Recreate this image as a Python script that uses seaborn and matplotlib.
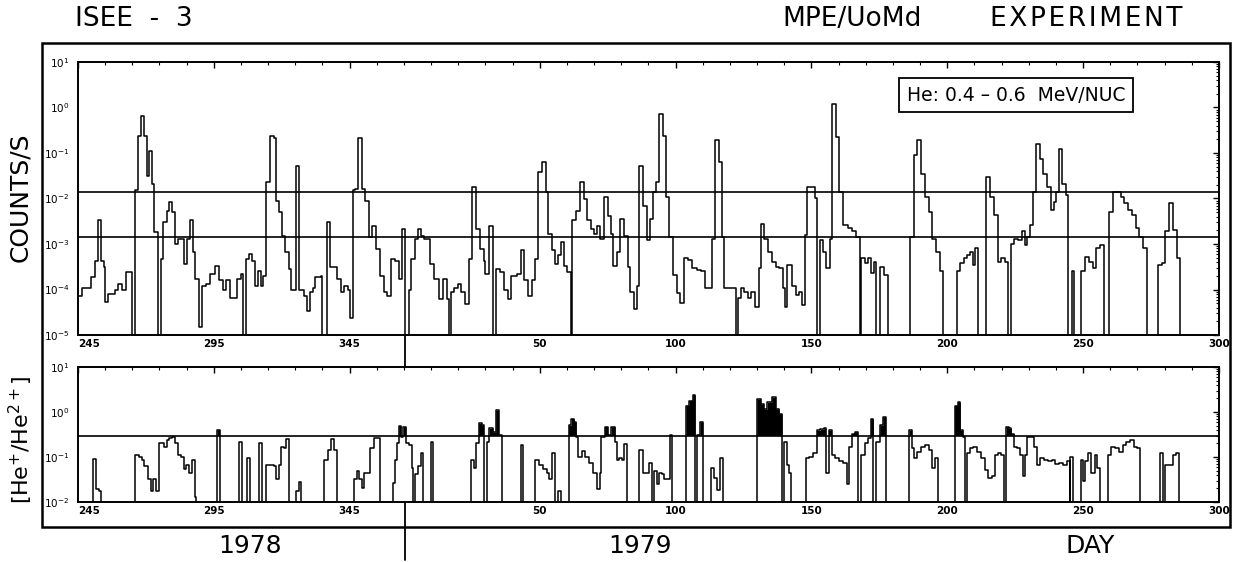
import numpy as np
import pandas as pd
import seaborn as sns
import matplotlib.pyplot as plt
from matplotlib.ticker import FixedLocator, NullFormatter
from matplotlib.transforms import blended_transform_factory
from matplotlib.patches import Rectangle
from matplotlib.lines import Line2D

# day axis: 1978 day n -> n, 1979 day n -> 365 + n
# each value holds from its day up to the next day (step histogram), 0 = no counts
count_days = [
    245, 246.5, 249.9, 251.3, 252.2, 253.3, 254.4, 254.9, 256, 258.8, 259.9, 261.2, 262.8, 264.9,
    266, 267.2, 268.3, 269.4, 270.3, 271, 272.4, 273.1, 274.4, 275.4, 276.2, 277.8, 278.5, 279.5,
    280.6, 281.9, 284.2, 285.3, 286.4, 287.4, 288.2, 289.4, 290.8, 292.1, 293.5, 295.5, 296.9,
    298.3, 299.6, 301, 303.4, 305.1, 305.8, 306.7, 307.8, 308.9, 310, 311.2, 312.3, 313.2, 314.2,
    315.7, 317.3, 318, 319, 320, 321.2, 322.5, 323.5, 325.2, 326.3, 328.2, 329.3, 330.3, 331.6,
    332.3, 334.4, 335, 336.7, 337.8, 340.5, 341.9, 343, 344.3, 345.3, 346.2, 346.9, 348, 349.4,
    350.7, 352.1, 353.4, 354.8, 356.2, 357.5, 358.9, 360.3, 361.6, 363, 364.3, 365.4, 367, 367.7,
    369.1, 370.2, 371.2, 372.5, 374.6, 375.9, 378, 379.3, 380.7, 381.4, 382.2, 383.4, 384.8,
    386.1, 387.5, 388.9, 390.2, 391.6, 393, 394.3, 395, 396.4, 397.7, 398.8, 400.2, 401.8, 403.2,
    404.5, 406.6, 407.9, 409.3, 410.7, 412, 413.4, 414.3, 415.7, 417.1, 418.2, 419.5, 420.6,
    421.6, 422.9, 423.9, 425, 426.3, 427, 428.4, 429.7, 431.1, 432.5, 433.8, 434.8, 435.9, 437.2,
    438.6, 440, 441.3, 442, 443.4, 444.7, 446.1, 447.4, 448.1, 449.5, 450.6, 451.5, 452.9, 454.3,
    455.6, 456.7, 457.8, 458.9, 460.3, 461.3, 462.6, 464, 465.4, 466.7, 468.1, 469.5, 470.9,
    472.9, 474.3, 475.7, 478.4, 479.5, 480.9, 481.9, 482.8, 487.1, 488, 489.1, 490.1, 491.5,
    492.8, 494.2, 495.6, 496.6, 497.7, 499, 500.4, 501.8, 503.1, 504.5, 505.2, 505.9, 508, 509.3,
    510.3, 511.4, 512.5, 513.5, 516.2, 517.2, 518.3, 519.4, 520.3, 521.7, 522.7, 524, 525.1,
    526.5, 528.6, 529.9, 531.3, 532.7, 533.4, 534.7, 535.8, 536.8, 537.9, 538.9, 540.2, 541.6,
    543, 551.2, 552.6, 554, 555.3, 556.7, 558.1, 559.5, 560.8, 562.2, 563.6, 568.4, 569.8, 571.1,
    572.1, 573.2, 574.3, 575.3, 576.2, 579.4, 580.8, 582.1, 583.5, 584.9, 586.3, 587.2, 588.3,
    589.7, 591.1, 592.4, 593.5, 594.5, 595.5, 596.6, 597.7, 599, 600.4, 601.8, 603.2, 604.1,
    605.1, 606.2, 607.3, 608.6, 609.6, 611, 611.7, 614.4, 615.8, 617.2, 618.5, 619.9, 621.3,
    622.7, 624.7, 626.1, 628.8, 630.2, 631.6, 633, 634.3, 635.7, 637.1, 638.5, 642.6, 643.9,
    645.3, 646.7, 648.1, 649.5, 650.8,
]
count_rates = [
    7.3e-5, 1.1e-4, 1.85e-4, 4.3e-4, 3.3e-3, 4.3e-4, 3.1e-4, 5.2e-5, 8e-5, 1.0e-4, 1.3e-4, 1.0e-4, 2.4e-4, 0,
    0.015, 0.24, 0.65, 0.24, 0.032, 0.11, 0.021, 0.0018, 0, 4.7e-4, 0.003, 0.0054, 0.0083, 0.005,
    0.001, 0.0013, 3.6e-4, 0.0013, 0.0033, 6.8e-4, 1.7e-4, 1.5e-5, 1.2e-4, 1.3e-4, 2.2e-4, 3.3e-4, 1.6e-4,
    1.0e-4, 1.6e-4, 6.4e-5, 1.7e-4, 2.2e-4, 0, 4.7e-4, 6.0e-4, 4.3e-4, 1.2e-4, 2.6e-4, 1.2e-4, 2.0e-4, 0.023,
    0.24, 0.21, 0.009, 0.005, 0.0015, 6.6e-4, 2.8e-4, 1.0e-4, 0.053, 1.0e-4, 7.3e-5, 3.4e-5, 8.7e-5, 1.1e-4,
    1.85e-4, 2.0e-4, 0, 0.003, 3.1e-4, 1.7e-4, 8.7e-5, 1.2e-4, 1.0e-4, 2.4e-5, 0.015, 0.016, 0.21, 0.016,
    0.009, 0.0014, 0.0025, 7.8e-4, 2.0e-4, 8.7e-5, 7.3e-5, 4.7e-4, 4.3e-4, 1.7e-4, 0.0021, 0, 1.0e-4, 4.7e-4,
    0.0013, 0.0021, 0.0015, 0.0013, 3.6e-4, 1.7e-4, 6.2e-5, 1.7e-4, 6.2e-5, 0, 8.7e-5, 1.1e-4, 1.3e-4,
    8.7e-5, 4.8e-5, 4.7e-4, 0.018, 0.0021, 7.8e-4, 4.3e-4, 2.2e-4, 0.0025, 0, 2.8e-4, 2.4e-4, 1.0e-4, 6.2e-5,
    2.0e-4, 2.2e-4, 7.2e-4, 1.6e-4, 7.3e-5, 1.6e-4, 4.7e-4, 0.038, 0.063, 0.014, 0.0017, 7.2e-4, 3.6e-4,
    5.6e-4, 0.0011, 3.3e-4, 2.4e-4, 0, 0.0033, 0.0054, 0.023, 0.0098, 0.0033, 0.0021, 0.0017, 0.0025, 0.0013,
    0.011, 0.0042, 0.0017, 3.3e-4, 6.6e-4, 0.0036, 0.0015, 3.1e-4, 8.7e-5, 3.7e-5, 1.2e-4, 0.053, 0.007, 0.0012,
    0.0036, 0.014, 0.023, 0.73, 0.24, 0.011, 0.0014, 2.1e-4, 8.3e-5, 5e-5, 4.9e-4, 4.5e-4, 2.9e-4,
    2.7e-4, 2.5e-4, 1.1e-4, 0.0013, 0.19, 0.064, 0.0014, 1.1e-4, 0, 6.5e-5, 1.1e-4, 9e-5, 6.5e-5,
    9e-5, 4.2e-5, 2.9e-4, 0.0028, 0.0013, 6.8e-4, 4.1e-4, 3.2e-4, 2.9e-4, 1.1e-4, 4.2e-5, 3.5e-4, 1.2e-4, 7.6e-5,
    9e-5, 4.6e-5, 0.0016, 0.018, 0.01, 0, 0.0012, 6.8e-4, 2.9e-4, 0.0013, 1.2, 0.22, 0.014,
    0.0026, 0.0022, 0.0019, 0.0014, 0, 4.9e-4, 3.8e-4, 4.9e-4, 2.3e-4, 4.1e-4, 0, 3.2e-4, 2.1e-4,
    0, 0.0014, 0.089, 0.19, 0.035, 0.011, 0.0051, 0.0013, 6.8e-4, 2.5e-4, 0, 2.5e-4, 3.8e-4, 4.9e-4,
    5.7e-4, 6.8e-4, 3.5e-4, 8e-4, 0, 0.030, 0.011, 0.0043, 4.1e-4, 4.9e-4, 4.1e-4, 0, 0.001,
    0.0013, 0.0012, 0.0019, 9.5e-4, 0.0014, 0.0026, 0.014, 0.16, 0.075, 0.035, 0.018, 0.0056, 0.0085,
    0.014, 0.124, 0.021, 0.012, 0, 2.5e-4, 0, 2.5e-4, 5.3e-4, 4.1e-4, 2.9e-4, 8e-4, 9.5e-4,
    0, 0.0051, 0.014, 0.011, 0.0078, 0.0056, 0.0043, 0.0022, 0.0014, 8e-4, 0, 3.5e-4, 3.8e-4,
    0.0019, 0.0078, 0.002, 4.9e-4, 0,
]

ratio_days = [
    245, 250.6, 251.7, 252.6, 253.3, 266, 267.6, 268.6, 269.4, 270.7, 271.7, 272.7, 273.7, 274.8,
    276.5, 277.6, 278.5, 279.5, 280.6, 281.9, 283, 284, 284.9, 286, 287.1, 288.1, 288.5, 296.2,
    297.2, 304.4, 305.5, 307.1, 308.5, 311.5, 312.6, 314.3, 315.7, 317.3, 318, 319, 319.8, 320.7,
    321.4, 322.5, 325.2, 326.2, 327.2, 335.7, 337.1, 338, 339.1, 340.2, 346.6, 347.6, 348.4,
    349.4, 350.3, 351.7, 352.5, 353.9, 355.8, 356.2, 360.9, 361.8, 362.6, 363.1, 363.9, 364.8,
    365.7, 366.7, 367.8, 368.4, 369.1, 370.2, 371.2, 372.1, 374.8, 375.7, 389.8, 390.9, 391.6,
    392.5, 393.6, 394.3, 395.7, 396.4, 397.7, 398.8, 399.8, 401.1, 407.9, 408.9, 413.4, 414.8,
    416.1, 417.5, 418.4, 419.5, 420.6, 421.6, 422.9, 425.6, 426.6, 427.7, 428.4, 429, 430.4,
    431.8, 433.1, 434.5, 435.9, 437, 437.5, 438.9, 440, 441.3, 442.7, 443.4, 444.3, 445.4, 446.1,
    447, 451.5, 452.9, 454.3, 455.2, 456.2, 457.1, 458.1, 458.9, 459.9, 460.8, 461.9, 463, 463.6,
    468.8, 469.9, 471.3, 472.2, 472.9, 474, 475, 478.1, 479.1, 480.1, 481.2, 482.3, 494.9, 496.3,
    497.4, 498.8, 500.4, 501.8, 503.1, 504.2, 504.8, 505.9, 506.9, 507.5, 513, 514.1, 515.5,
    516.9, 518.3, 519.6, 520.3, 521.3, 522.4, 523.8, 525.1, 526.5, 527.9, 529, 529.9, 530.9, 532,
    533.4, 534.7, 535.8, 536.8, 537.8, 538.9, 540.2, 541.3, 542.3, 551, 551.9, 552.9, 554, 555.3,
    556.7, 558.1, 559.5, 560.6, 561.5, 567.7, 568.8, 569.8, 570.7, 571.6, 572.1, 573.2, 574.6,
    575.9, 577.3, 578.7, 580.1, 581.5, 582.5, 583.5, 584.9, 585.8, 586.7, 587.6, 588.6, 589.7,
    590.8, 591.8, 592.7, 593.5, 594.5, 595.9, 596.8, 597.9, 599.3, 600.7, 602.1, 603.4, 604.8,
    606.2, 607.5, 608.9, 610, 610.3, 611.4, 614.1, 615.1, 615.8, 616.9, 617.8, 619.2, 620.2,
    621.3, 624, 625.4, 626.8, 628.1, 629.5, 630.9, 632.3, 633.6, 635, 636.1, 643.3, 644.4, 645.3,
    646.7, 648.1, 649.1, 650.4,
]
ratio_vals = [
    0, 0.09, 0.019, 0.0177, 0, 0.112, 0.10, 0.087, 0.062, 0.032, 0.0177, 0.033, 0.0177, 0.20,
    0.17, 0.24, 0.26, 0.28, 0.20, 0.112, 0.10, 0.053, 0.068, 0.045, 0.087, 0.0127, 0, 0.40,
    0, 0.22, 0, 0.095, 0, 0.20, 0, 0.068, 0.068, 0.062, 0.033, 0.065, 0.17, 0.157,
    0.25, 0, 0.0177, 0.028, 0, 0.087, 0.145, 0.25, 0.145, 0, 0.032, 0.049, 0.032,
    0.02, 0.045, 0.045, 0.157, 0.26, 0.26, 0, 0.027, 0.087, 0.20, 0.49, 0.28, 0.47,
    0.20, 0.18, 0.057, 0, 0.041, 0.062, 0.122, 0, 0.22, 0, 0.087, 0.057, 0.20,
    0.56, 0.51, 0, 0.22, 0.43, 0.36, 1.09, 0.31, 0, 0.18, 0, 0.087, 0.068,
    0.053, 0.045, 0.032, 0.122, 0, 0.0177, 0, 0.51, 0.71, 0.6, 0.28, 0.10, 0.133,
    0.10, 0.074, 0.045, 0.019, 0.045, 0.28, 0.47, 0.31, 0.47, 0.22, 0.087, 0.095, 0.087, 0.19,
    0, 0.145, 0.045, 0.045, 0.074, 0, 0.048, 0.025, 0.044, 0.041, 0.032, 0.033, 0.31, 0,
    1.39, 1.79, 2.4, 0, 0.31, 0.6, 0, 0.057, 0.034, 0.018, 0.094, 0, 1.94, 1.51,
    1.17, 1.64, 2.1, 1.17, 0.91, 0, 0.22, 0.067, 0.044, 0, 0.094, 0.10, 0.121,
    0.39, 0.41, 0.43, 0.044, 0.39, 0.111, 0.094, 0.08, 0.073, 0.025, 0.17, 0.33, 0.36, 0,
    0.111, 0.20, 0.26, 0.71, 0, 0.22, 0.51, 0.77, 0, 0.39, 0.156, 0.094, 0.132, 0.17,
    0.185, 0.144, 0.057, 0.094, 0, 1.39, 1.64, 0.39, 0.28, 0, 0.121, 0.156, 0.17,
    0.132, 0.094, 0.052, 0.034, 0.037, 0.111, 0.121, 0.111, 0, 0.47, 0.43, 0.33, 0.17,
    0.156, 0.111, 0.037, 0.111, 0.28, 0.28, 0.17, 0.067, 0.094, 0.087, 0.08, 0.087, 0.07,
    0.073, 0.067, 0.08, 0, 0.10, 0, 0.087, 0.029, 0.08, 0.121, 0.044, 0.111, 0.057,
    0, 0.111, 0.17, 0.156, 0.132, 0.185, 0.22, 0.24, 0.17, 0.156, 0, 0.121, 0, 0.067,
    0.067, 0.111, 0.121, 0,
]

last_day = 665
tick_days = [245, 295, 345, 415, 465, 515, 565, 615, 665]
tick_labels = ["245", "295", "345", "50", "100", "150", "200", "250", "300"]
count_levels = [1.4e-2, 1.4e-3]
ratio_level = 0.3
year_end = 365.5

sns.set_theme(style="white")
plt.rcParams["font.family"] = ["DejaVu Sans"]
plt.rcParams["mathtext.default"] = "regular"
for key in ("text.color", "axes.labelcolor", "xtick.color", "ytick.color", "axes.edgecolor"):
    plt.rcParams[key] = "black"

fig = plt.figure(figsize=(12.34, 5.62), dpi=100)
ax1 = fig.add_axes([0.0632, 0.4039, 0.9246, 0.4858])
ax2 = fig.add_axes([0.0632, 0.1068, 0.9246, 0.2402])


def step_frame(days, vals, floor):
    d = list(days) + [last_day]
    v = list(vals) + [vals[-1]]
    v = [x if x > 0 else floor for x in v]
    return pd.DataFrame({"day": d, "value": v})


top = step_frame(count_days, count_rates, 1e-8)
bot = step_frame(ratio_days, ratio_vals, 1e-5)

sns.lineplot(data=top, x="day", y="value", ax=ax1, color="black", lw=1.1,
             drawstyle="steps-post", estimator=None)
sns.lineplot(data=bot, x="day", y="value", ax=ax2, color="black", lw=1.1,
             drawstyle="steps-post", estimator=None)

# black fill above the ratio threshold
ax2.fill_between(bot["day"], ratio_level, np.maximum(bot["value"], ratio_level),
                 step="post", color="black", lw=0)

for lev in count_levels:
    ax1.axhline(lev, color="black", lw=1.2)
ax2.axhline(ratio_level, color="black", lw=1.2)

for ax, lims in ((ax1, (1e-5, 10)), (ax2, (1e-2, 10))):
    ax.set_yscale("log")
    ax.set_ylim(*lims)
    ax.set_xlim(245, last_day)
    ax.xaxis.set_major_locator(FixedLocator(tick_days))
    ax.xaxis.set_minor_locator(FixedLocator(np.arange(245, last_day + 1, 10)))
    ax.set_xticklabels(tick_labels)
    ax.yaxis.set_minor_formatter(NullFormatter())
    ax.tick_params(which="both", direction="in", top=True, right=True, labelsize=7.5, pad=3)
    ax.tick_params(axis="y", which="major", pad=6)
    ax.tick_params(which="major", length=4, width=1)
    ax.tick_params(which="minor", length=2, width=0.8)
    for s in ax.spines.values():
        s.set_linewidth(1.4)
        s.set_color("black")
    ax.set_xlabel("")
    ax.set_ylabel("")
    labs = ax.get_xticklabels()
    for lab in labs:
        lab.set_fontweight("bold")
    labs[0].set_horizontalalignment("left")

# outer frame
fig.add_artist(Rectangle((0.034, 0.0623), 0.9628, 0.8612, transform=fig.transFigure,
                         fill=False, lw=1.8, ec="black"))

# 1978/1979 separator
tr = blended_transform_factory(ax1.transData, fig.transFigure)
fig.add_artist(Line2D([year_end, year_end], [0.4039, 0.347], transform=tr, color="black", lw=1.3))
fig.add_artist(Line2D([year_end, year_end], [0.1068, 0.003], transform=tr, color="black", lw=1.3))

fig.text(75 / 1234, 1 - 19 / 562, "ISEE  -  3", fontsize=19, va="center", ha="left")
fig.text(782 / 1234, 1 - 19 / 562, "MPE/UoMd", fontsize=19, va="center", ha="left")
fig.text(1183 / 1234, 1 - 19 / 562, "\u200a".join("EXPERIMENT"), fontsize=19,
         va="center", ha="right")
fig.text(250 / 1234, 1 - 546 / 562, "1978", fontsize=18, va="center", ha="center")
fig.text(640 / 1234, 1 - 546 / 562, "1979", fontsize=18, va="center", ha="center")
fig.text(1090 / 1234, 1 - 546 / 562, "DAY", fontsize=18, va="center", ha="center")
fig.text(20 / 1234, 1 - 197 / 562, "COUNTS/S", fontsize=18, rotation=90, va="center", ha="center")
fig.text(21 / 1234, 1 - 440 / 562, "[He$^{+}$/He$^{2+}$]", fontsize=16, rotation=90,
         va="center", ha="center")
fig.text(1016 / 1234, 1 - 95 / 562, "He: 0.4 – 0.6  MeV/NUC", fontsize=13.5, va="center",
         ha="center", bbox=dict(boxstyle="square,pad=0.4", fc="white", ec="black", lw=1.3))

fig.savefig("out.png", dpi=100)
